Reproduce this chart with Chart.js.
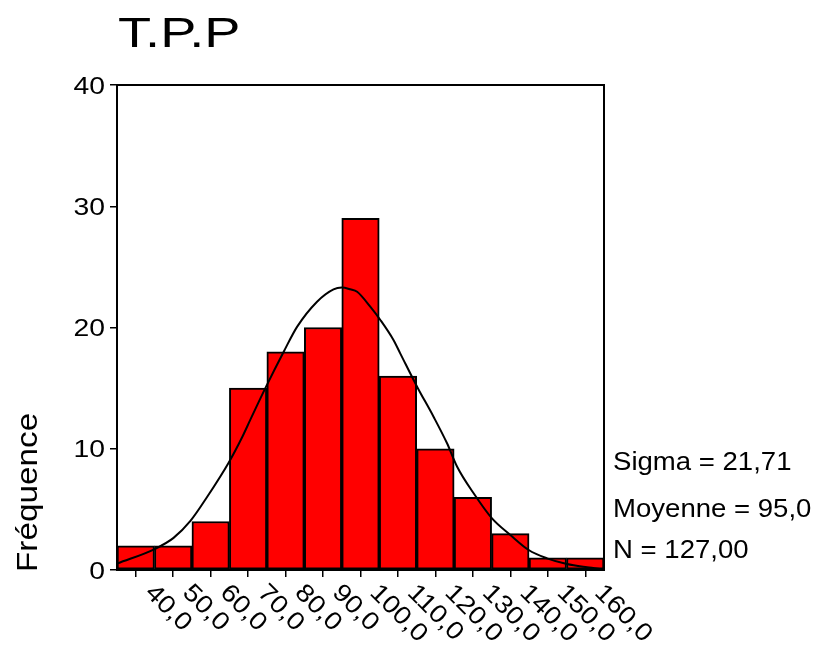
<!DOCTYPE html>
<html>
<head>
<meta charset="utf-8">
<script src="https://cdn.jsdelivr.net/npm/chart.js@4.4.0/dist/chart.umd.min.js"></script>
<style>
  html, body { margin: 0; padding: 0; background: #fff; }
</style>
</head>
<body>
<canvas id="myChart" width="821" height="645"></canvas>
<script>
// histogram bins (centres) and counts
const binCenters = [40, 50, 60, 70, 80, 90, 100, 110, 120, 130, 140, 150, 160];
const frequencies = [2, 2, 4, 15, 18, 20, 29, 16, 10, 6, 3, 1, 1];
const tickLabels = ['40,0', '50,0', '60,0', '70,0', '80,0', '90,0', '100,0', '110,0', '120,0', '130,0', '140,0', '150,0', '160,0'];
const yTicks = [0, 10, 20, 30, 40];

// normal curve
const curveX = [35.2, 45.2, 50.1, 54.6, 59.0, 64.8, 68.4, 70.6, 74.6, 79.5, 83.1, 88.4, 92.8, 95.0, 97.3, 99.1, 102.6, 105.3, 108.8, 110.6, 115.1, 119.5, 123.1, 125.8, 130.2, 135.1, 140.0, 144.9, 149.8, 155.1, 160.5, 164.9];
const curveY = [0.55, 1.75, 2.65, 4.05, 6.0, 8.85, 10.95, 12.4, 15.0, 18.0, 20.07, 22.13, 23.15, 23.3, 23.15, 22.95, 21.72, 20.62, 18.97, 17.87, 15.12, 12.64, 10.45, 8.52, 6.33, 4.26, 2.89, 1.65, 0.96, 0.49, 0.22, 0.05];

const chartTitle = 'T.P.P';
const yTitle = 'Fréquence';
const statLines = ['Sigma = 21,71', 'Moyenne = 95,0', 'N = 127,00'];

const FONT = '"Liberation Sans", Arial, sans-serif';

function drawText(ctx, s, x, y, size, o) {
    ctx.save();
    ctx.translate(x, y);
    if (o.rot) ctx.rotate(o.rot);
    ctx.scale(o.sx || 1.13, 1);
    ctx.font = size + 'px ' + FONT;
    ctx.textAlign = o.align || 'left';
    ctx.textBaseline = o.base || 'alphabetic';
    ctx.fillStyle = '#000';
    ctx.fillText(s, 0, 0);
    ctx.restore();
}

const textPlugin = {
    id: 'spssText',
    afterDraw(chart) {
        const ctx = chart.ctx;
        const a = chart.chartArea;
        const xs = chart.scales.x;
        const ys = chart.scales.y;

        // frame around plot
        ctx.save();
        ctx.strokeStyle = '#000';
        ctx.lineWidth = 2;
        ctx.strokeRect(a.left, a.top, a.right - a.left, a.bottom - a.top);
        ctx.restore();

        drawText(ctx, chartTitle, 118, 47, 43, { sx: 1.26 });

        yTicks.forEach(v => {
            drawText(ctx, String(v), 105, ys.getPixelForValue(v) + 8.5, 24, { align: 'right', sx: 1.18 });
        });

        drawText(ctx, yTitle, 37, 572, 30, { rot: -Math.PI / 2, sx: 1.11 });

        binCenters.forEach((v, i) => {
            const px = xs.getPixelForValue(v);
            drawText(ctx, tickLabels[i], px + 22, 580, 25, { rot: Math.PI / 4, base: 'top', sx: 1.12 });
        });

        const baselines = [470, 517, 558];
        statLines.forEach((s, i) => drawText(ctx, s, 613, baselines[i], 26, { sx: 1.06 }));
    }
};

const ctx = document.getElementById('myChart').getContext('2d');

const myChart = new Chart(ctx, {
    type: 'bar',
    data: {
        datasets: [{
            type: 'line',
            data: curveX.map((x, i) => ({ x: x, y: curveY[i] })),
            borderColor: '#000',
            borderWidth: 2,
            pointRadius: 0,
            cubicInterpolationMode: 'monotone',
            order: 0
        }, {
            type: 'bar',
            data: binCenters.map((x, i) => ({ x: x, y: frequencies[i] })),
            backgroundColor: '#ff0000',
            borderColor: '#000',
            borderWidth: 2,
            borderSkipped: false,
            barPercentage: 1,
            categoryPercentage: 1,
            grouped: false,
            order: 1
        }]
    },
    options: {
        responsive: false,
        animation: false,
        layout: { padding: { left: 0, top: 85, right: 217, bottom: 0 } },
        plugins: { legend: { display: false }, tooltip: { enabled: false } },
        scales: {
            x: {
                type: 'linear',
                min: 35,
                max: 165,
                offset: false,
                afterBuildTicks: s => { s.ticks = binCenters.map(v => ({ value: v })); },
                afterFit: s => { s.height = 75; },
                ticks: { display: false },
                grid: { offset: false, drawOnChartArea: false, drawTicks: true, tickLength: 7, color: '#000', lineWidth: 1.5 },
                border: { display: true, color: '#000', width: 2 }
            },
            y: {
                min: 0,
                max: 40,
                afterBuildTicks: s => { s.ticks = yTicks.map(v => ({ value: v })); },
                afterFit: s => { s.width = 117; },
                ticks: { display: false },
                grid: { drawOnChartArea: false, drawTicks: true, tickLength: 7, color: '#000', lineWidth: 1.5 },
                border: { display: true, color: '#000', width: 2 }
            }
        }
    },
    plugins: [textPlugin]
});
</script>
</body>
</html>
